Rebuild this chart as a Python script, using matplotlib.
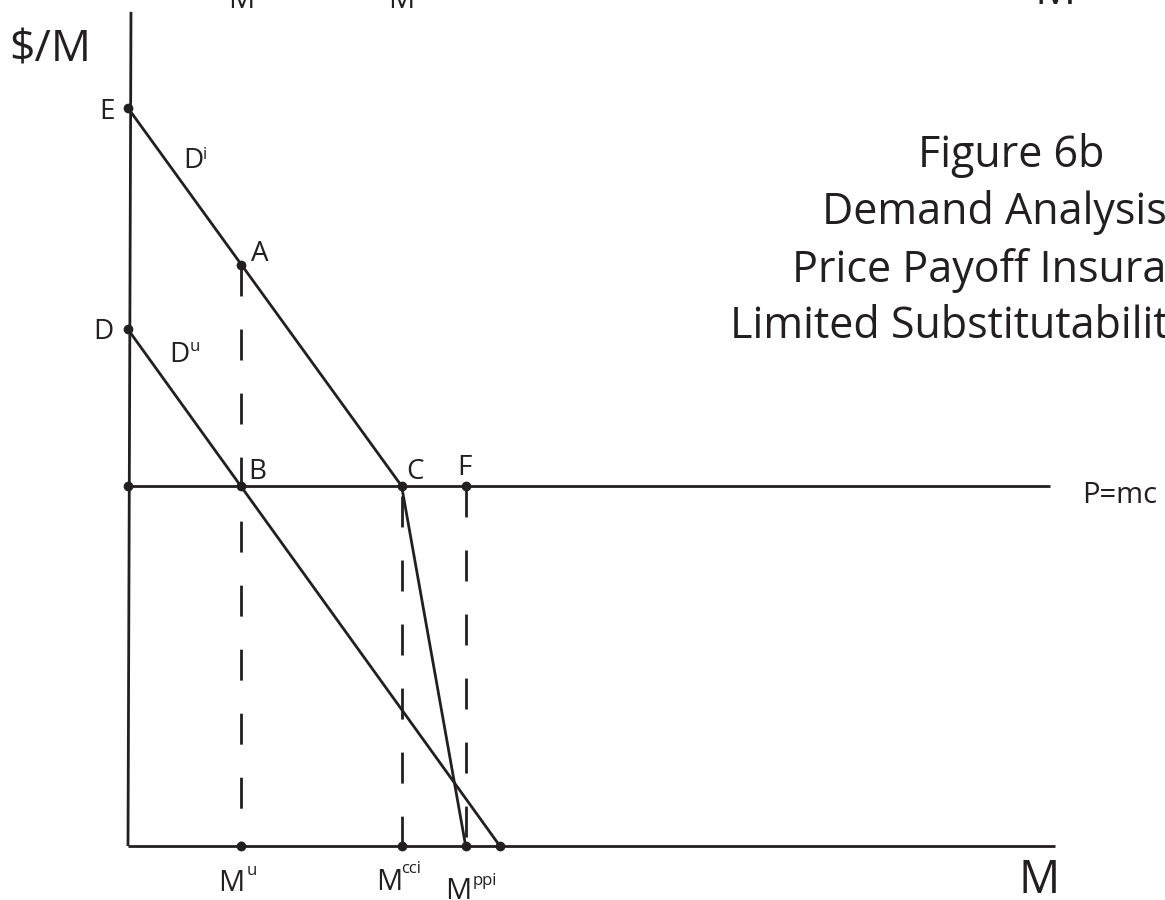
import numpy as np
import matplotlib
matplotlib.use("Agg")
import matplotlib.pyplot as plt

plt.rcParams['font.family'] = ['Open Sans', 'DejaVu Sans']
plt.rcParams['lines.scale_dashes'] = False

INK = '#231f20'

# price levels ($/M)
mc = 10.0
price_E = 20.5
price_D = 14.35
price_axis_top = 23.17

# quantities (M)
m_u = 3.15
m_cci = 7.6
m_ppi = 9.38
m_du_end = 10.33
m_pmc_end = 25.6
m_axis_end = 25.75

title_lines = ["Figure 6b", "Demand Analysis", "Price Payoff Insurance", "Limited Substitutability"]

# pixel layout of the page (36 px per unit, origin of the diagram at 128, 846)
W, H = 1165, 900
px_unit = 36.0
x0, y0 = 128, 846

fig = plt.figure(figsize=(W / 100, H / 100), dpi=100)
ax = fig.add_axes([0, 0, 1, 1])
ax.set_xlim(-x0 / px_unit, (W - x0) / px_unit)
ax.set_ylim(-(H - y0) / px_unit, y0 / px_unit)
ax.axis('off')

lw = 2.0
line_kw = dict(color=INK, lw=lw, solid_capstyle='butt')

# axes of the diagram
ax.plot([0, 0.083], [0, price_axis_top], **line_kw)
ax.plot([0, m_axis_end], [0, 0], **line_kw)
# P = mc
ax.plot([0, m_pmc_end], [mc, mc], **line_kw)

# demand curves
price_A = np.interp(m_u, [0, m_cci], [price_E, mc])
ax.plot([0, m_cci], [price_E, mc], **line_kw)           # D^i
ax.plot([0, m_du_end], [price_D, 0], **line_kw)         # D^u
ax.plot([m_cci, m_ppi], [mc, 0], **line_kw)             # kinked segment

# dashed drop lines
on, off = 22.3, 23.8
ax.plot([m_u, m_u], [price_A, 0], color=INK, lw=lw, ls=(0, (on, off)))
ax.plot([m_cci, m_cci], [mc, 0], color=INK, lw=lw, ls=(on + off - 7.2, (on, off)))
ax.plot([m_ppi, m_ppi], [mc, 0], color=INK, lw=lw, ls=(0, (on, off)))

# dots
dot_q = [0, 0, 0, m_u, m_u, m_cci, m_ppi, m_u, m_cci, m_ppi, m_du_end]
dot_p = [price_E, price_D, mc, price_A, mc, mc, mc, 0, 0, 0, 0]
ax.plot(dot_q, dot_p, 'o', color=INK, ms=6, mec=INK)


def lab(txt, xy, dx, dy, size=20, ha='left'):
    ax.annotate(txt, xy=xy, xytext=(dx, dy), textcoords='offset pixels',
                ha=ha, va='baseline', fontsize=size, color=INK,
                annotation_clip=False)


lab('E', (0, price_E), -13, -10.7, ha='right')
lab('D', (0, price_D), -14, -10, ha='right')
lab('D', (0, price_E), 55.7, -59.7)
lab('i', (0, price_E), 74.4, -50.7, size=12)
lab('D', (0, price_D), 41.3, -33)
lab('u', (0, price_D), 61.3, -21.7, size=12)
lab('A', (m_u, price_A), 10, 3.7)
lab('B', (m_u, mc), 7.3, 6.7)
lab('C', (m_cci, mc), 5, 7)
lab('F', (m_ppi, mc), -1, 11, ha='center')
lab('P=mc', (m_pmc_end, mc), 32.7, -17, size=21)

lab('M', (m_u, 0), 3, -45, size=21, ha='right')
lab('u', (m_u, 0), 5, -29, size=12)
lab('M', (m_cci, 0), 1, -44, size=21, ha='right')
lab('cci', (m_cci, 0), -0.5, -27, size=12)
lab('M', (m_ppi, 0), 5.5, -53, size=21, ha='right')
lab('ppi', (m_ppi, 0), 6.5, -39, size=12)

lab('M', (m_axis_end, 0), -36, -47, size=33)
lab('$/M', (0.083, price_axis_top), -122, -50, size=32)

# labels of the figure above, cut off by the page edge
lab('M', (m_u, 0), 0, y0 - 8, size=21, ha='center')
lab('M', (m_cci, 0), 0, y0 - 8, size=21, ha='center')
lab('M', (m_axis_end, 0), -20, y0 - 4, size=33)

# title block
title_left = [918, 822, 792, 730]
title_base = [167, 224, 282, 338]
for txt, xl, yb in zip(title_lines, title_left, title_base):
    fig.text(xl / W, 1 - yb / H, txt, ha='left', va='baseline',
             fontsize=31, color=INK)

fig.savefig('out.png', dpi=100)
